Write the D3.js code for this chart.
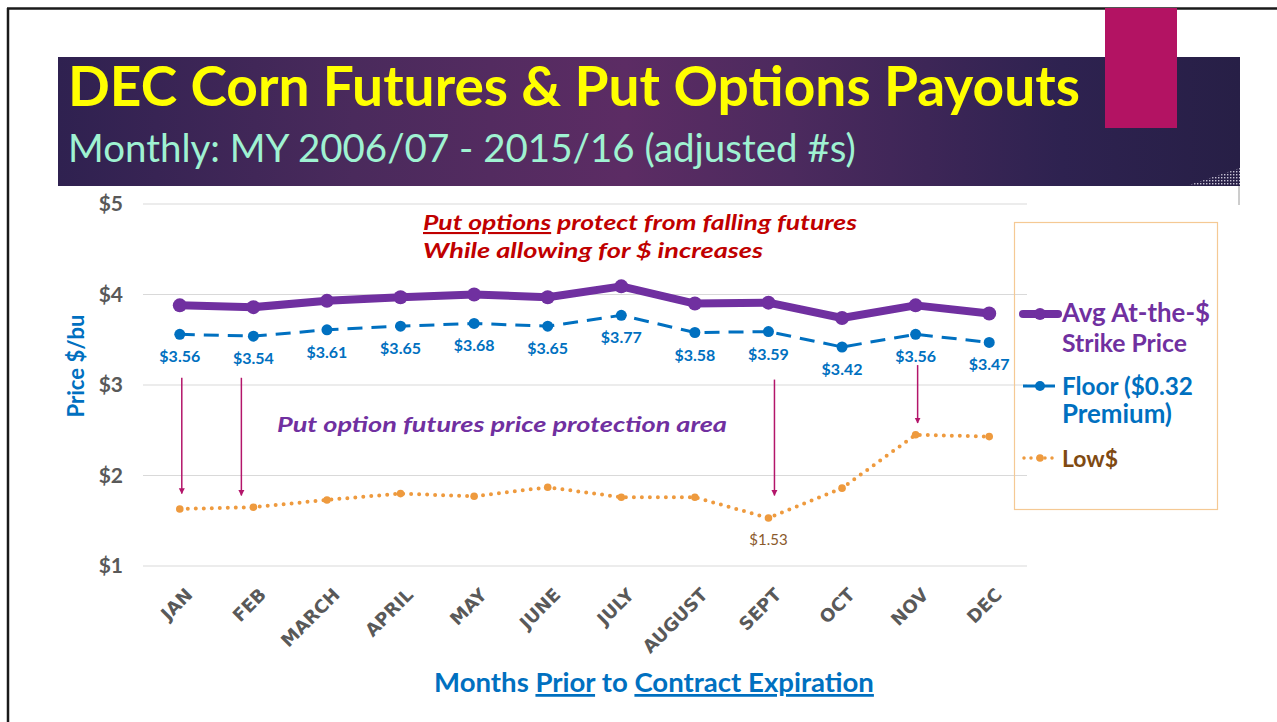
<!DOCTYPE html>
<html>
<head>
<meta charset="utf-8">
<script src="https://cdn.jsdelivr.net/npm/d3@7"></script>
<style>
  html, body { margin: 0; padding: 0; background: #ffffff; }
  svg { display: block; }
  svg text { font-family: "Lato", "Open Sans", "DejaVu Sans", sans-serif; }
</style>
</head>
<body>
<svg id="chart" width="1277" height="722"></svg>
<script>
// ---------------- data ----------------
const months = ["JAN","FEB","MARCH","APRIL","MAY","JUNE","JULY","AUGUST","SEPT","OCT","NOV","DEC"];
const strikePrice = [3.88,3.86,3.93,3.97,4.00,3.97,4.09,3.90,3.91,3.74,3.88,3.79];
const floorPrice  = [3.56,3.54,3.61,3.65,3.68,3.65,3.77,3.58,3.59,3.42,3.56,3.47];
const lowPrice    = [1.63,1.65,1.73,1.80,1.77,1.87,1.76,1.76,1.53,1.86,2.45,2.43];
const yTicks = [1,2,3,4,5];
const arrowMonths = ["JAN","FEB","SEPT","NOV"];
const arrowFrom   = [3.08,3.08,3.06,3.22];
const arrowTo     = [1.80,1.78,1.78,2.58];
const lowLabelMonth = "SEPT";

// ---------------- setup ----------------
const svg = d3.select("#chart");
const W = 1277, H = 722;
const plot = {left: 143, right: 1026, top: 204, bottom: 566};
const WIDE = "'DejaVu Sans', sans-serif";

const x = d3.scaleBand().domain(months).range([plot.left, plot.right]);
const xc = m => x(m) + x.bandwidth() / 2;
const y = d3.scaleLinear().domain([1, 5]).range([plot.bottom, plot.top]);

function fit(sel, target) {
  const node = sel.node();
  const fs = parseFloat(sel.attr("font-size"));
  const w = node.getComputedTextLength();
  if (w > 0) sel.attr("font-size", (fs * target / w).toFixed(2));
  return sel;
}
function stretch(sel, target) {
  return sel.attr("textLength", target).attr("lengthAdjust", "spacingAndGlyphs");
}

const defs = svg.append("defs");
const grad = defs.append("linearGradient").attr("id", "banner").attr("x1", "0%").attr("x2", "100%").attr("y1", "0%").attr("y2", "0%");
[["0%", "#2f2150"], ["25%", "#4a2a5c"], ["48%", "#5c2c64"], ["62%", "#4c2a5e"], ["85%", "#2e2250"], ["100%", "#271f46"]]
  .forEach(([o, c]) => grad.append("stop").attr("offset", o).attr("stop-color", c));
const pat = defs.append("pattern").attr("id", "dots").attr("width", 3).attr("height", 3).attr("patternUnits", "userSpaceOnUse");
pat.append("rect").attr("width", 1.4).attr("height", 1.4).attr("fill", "#c9c4d6");
defs.append("marker").attr("id", "arrowhead").attr("viewBox", "0 0 10 10").attr("refX", 9).attr("refY", 5)
  .attr("markerWidth", 4).attr("markerHeight", 4.5).attr("orient", "auto")
  .append("path").attr("d", "M0,0 L10,5 L0,10 Z").attr("fill", "#b3156a");

// ---------------- slide frame ----------------
svg.append("line").attr("x1", 7).attr("x2", W).attr("y1", 8.5).attr("y2", 8.5).attr("stroke", "#1a1a1a").attr("stroke-width", 2.5);
svg.append("line").attr("x1", 8).attr("x2", 8).attr("y1", 8).attr("y2", H).attr("stroke", "#1a1a1a").attr("stroke-width", 2.5);

// banner
svg.append("rect").attr("x", 58).attr("y", 57).attr("width", 1182).attr("height", 129).attr("fill", "url(#banner)");
svg.append("path").attr("d", "M1240,168 L1240,186 L1186,186 Z").attr("fill", "url(#dots)");
svg.append("line").attr("x1", 1239).attr("x2", 1239).attr("y1", 186).attr("y2", 205).attr("stroke", "#9a9a9a").attr("stroke-width", 1);
svg.append("rect").attr("x", 1105).attr("y", 8).attr("width", 72).attr("height", 120).attr("fill", "#b31363");

const title = svg.append("text").attr("x", 68).attr("y", 106).attr("font-size", 54).attr("font-weight", 700)
  .attr("fill", "#ffff00").text("DEC Corn Futures & Put Options Payouts");
fit(title, 1012);
const subtitle = svg.append("text").attr("x", 68).attr("y", 162).attr("font-size", 36).attr("font-weight", 400)
  .attr("fill", "#9ff2d2").text("Monthly: MY 2006/07 - 2015/16 (adjusted #s)");
fit(subtitle, 788);

// ---------------- grid & axes ----------------
svg.append("g").selectAll("line").data(yTicks).join("line")
  .attr("x1", plot.left).attr("x2", plot.right + 1)
  .attr("y1", d => y(d)).attr("y2", d => y(d))
  .attr("stroke", "#d9d9d9").attr("stroke-width", 1.2);

const yAxis = svg.append("g").attr("transform", `translate(${plot.left},0)`)
  .call(d3.axisLeft(y).tickValues(yTicks).tickSize(0).tickPadding(20).tickFormat(d => "$" + d));
yAxis.select(".domain").remove();
yAxis.selectAll("text").attr("font-size", 21).attr("font-weight", 700).attr("fill", "#595959");

const yt = svg.append("text").attr("transform", "translate(84,366) rotate(-90)").attr("text-anchor", "middle")
  .attr("font-size", 20).attr("font-weight", 700).attr("fill", "#0070c0").text("Price $/bu");
fit(yt, 103);

const xAxis = svg.append("g").attr("transform", `translate(0,${plot.bottom})`)
  .call(d3.axisBottom(x).tickSize(0).tickPadding(0));
xAxis.select(".domain").remove();
xAxis.selectAll("text")
  .style("font-family", WIDE)
  .attr("font-size", 18).attr("font-weight", 700).attr("fill", "#595959")
  .attr("text-anchor", "end").attr("dy", "0.7em")
  .attr("transform", "translate(5,21) rotate(-45)");

const xt = svg.append("text").attr("x", 654).attr("y", 692).attr("text-anchor", "middle")
  .attr("font-size", 23).attr("font-weight", 700).attr("fill", "#0070c0");
xt.append("tspan").text("Months ");
xt.append("tspan").attr("text-decoration", "underline").text("Prior");
xt.append("tspan").text(" to ");
xt.append("tspan").attr("text-decoration", "underline").text("Contract Expiration");
fit(xt, 440);

// ---------------- annotations ----------------
const r1 = svg.append("text").attr("x", 423).attr("y", 230).attr("font-size", 21).attr("font-weight", 700)
  .attr("font-style", "italic").attr("fill", "#c00000");
r1.append("tspan").attr("text-decoration", "underline").text("Put options");
r1.append("tspan").text(" protect from falling futures");
stretch(r1, 434);
const r2 = svg.append("text").attr("x", 423).attr("y", 258).attr("font-size", 21).attr("font-weight", 700)
  .attr("font-style", "italic").attr("fill", "#c00000").text("While allowing for $ increases");
stretch(r2, 340);
const pn = svg.append("text").attr("x", 277).attr("y", 432).attr("font-size", 21).attr("font-weight", 700)
  .attr("font-style", "italic").attr("fill", "#7030a0").text("Put option futures price protection area");
stretch(pn, 450);

svg.append("g").selectAll("line").data(arrowMonths).join("line")
  .attr("x1", m => xc(m) + 2 + (m === "FEB" ? -14 : 0) + (m === "SEPT" ? 4 : 0))
  .attr("x2", m => xc(m) + 2 + (m === "FEB" ? -14 : 0) + (m === "SEPT" ? 4 : 0))
  .attr("y1", (m, i) => y(arrowFrom[i])).attr("y2", (m, i) => y(arrowTo[i]))
  .attr("stroke", "#b3156a").attr("stroke-width", 1.5).attr("marker-end", "url(#arrowhead)");

// ---------------- series ----------------
const line = d3.line().x((d, i) => xc(months[i])).y(d => y(d));

// Low$
svg.append("path").datum(lowPrice).attr("d", line).attr("fill", "none")
  .attr("stroke", "#ee9a3e").attr("stroke-width", 4).attr("stroke-linecap", "round").attr("stroke-dasharray", "0 8");
svg.append("g").selectAll("circle").data(lowPrice).join("circle")
  .attr("cx", (d, i) => xc(months[i])).attr("cy", d => y(d)).attr("r", 3.8).attr("fill", "#ee9a3e");

// Floor
svg.append("path").datum(floorPrice).attr("d", line).attr("fill", "none")
  .attr("stroke", "#0070c0").attr("stroke-width", 3).attr("stroke-dasharray", "15 9");
svg.append("g").selectAll("circle").data(floorPrice).join("circle")
  .attr("cx", (d, i) => xc(months[i])).attr("cy", d => y(d)).attr("r", 5.5).attr("fill", "#0070c0");
svg.append("g").selectAll("text").data(floorPrice).join("text")
  .attr("x", (d, i) => xc(months[i])).attr("y", d => y(d) + 28).attr("text-anchor", "middle")
  .attr("font-size", 16).attr("font-weight", 700).attr("fill", "#0070c0").text(d => "$" + d.toFixed(2));

// Strike
svg.append("path").datum(strikePrice).attr("d", line).attr("fill", "none")
  .attr("stroke", "#7030a0").attr("stroke-width", 8).attr("stroke-linejoin", "round");
svg.append("g").selectAll("circle").data(strikePrice).join("circle")
  .attr("cx", (d, i) => xc(months[i])).attr("cy", d => y(d)).attr("r", 7).attr("fill", "#7030a0");

// Low label
const li = months.indexOf(lowLabelMonth);
svg.append("text").attr("x", xc(lowLabelMonth)).attr("y", y(lowPrice[li]) + 27).attr("text-anchor", "middle")
  .attr("font-size", 15).attr("fill", "#8a5a2c").text("$" + lowPrice[li].toFixed(2));

// ---------------- legend ----------------
const lg = svg.append("g");
lg.append("rect").attr("x", 1014.5).attr("y", 222.5).attr("width", 203).attr("height", 287)
  .attr("fill", "none").attr("stroke", "#f5c994").attr("stroke-width", 1.2);

lg.append("line").attr("x1", 1023).attr("x2", 1058).attr("y1", 314).attr("y2", 314)
  .attr("stroke", "#7030a0").attr("stroke-width", 8).attr("stroke-linecap", "round");
lg.append("circle").attr("cx", 1040).attr("cy", 314).attr("r", 6).attr("fill", "#7030a0");
const l1 = lg.append("text").attr("x", 1062).attr("y", 322).attr("font-size", 20).attr("font-weight", 700).attr("fill", "#7030a0").text("Avg At-the-$");
fit(l1, 148);
const l1b = lg.append("text").attr("x", 1062).attr("y", 352).attr("font-size", 20).attr("font-weight", 700).attr("fill", "#7030a0").text("Strike Price");
fit(l1b, 125);
lg.append("line").attr("x1", 1023).attr("x2", 1055).attr("y1", 386).attr("y2", 386)
  .attr("stroke", "#0070c0").attr("stroke-width", 3);
lg.append("circle").attr("cx", 1040).attr("cy", 386).attr("r", 5).attr("fill", "#0070c0");
const l2 = lg.append("text").attr("x", 1062).attr("y", 395).attr("font-size", 20).attr("font-weight", 700).attr("fill", "#0070c0").text("Floor ($0.32");
fit(l2, 131);
const l2b = lg.append("text").attr("x", 1062).attr("y", 423).attr("font-size", 20).attr("font-weight", 700).attr("fill", "#0070c0").text("Premium)");
fit(l2b, 110);
lg.append("line").attr("x1", 1024).attr("x2", 1058).attr("y1", 458).attr("y2", 458)
  .attr("stroke", "#ee9a3e").attr("stroke-width", 3.5).attr("stroke-linecap", "round").attr("stroke-dasharray", "0 7");
lg.append("circle").attr("cx", 1040).attr("cy", 458).attr("r", 3.8).attr("fill", "#ee9a3e");
const l3 = lg.append("text").attr("x", 1062).attr("y", 467).attr("font-size", 20).attr("font-weight", 700).attr("fill", "#7f4a12").text("Low$");
fit(l3, 56);
</script>
</body>
</html>
